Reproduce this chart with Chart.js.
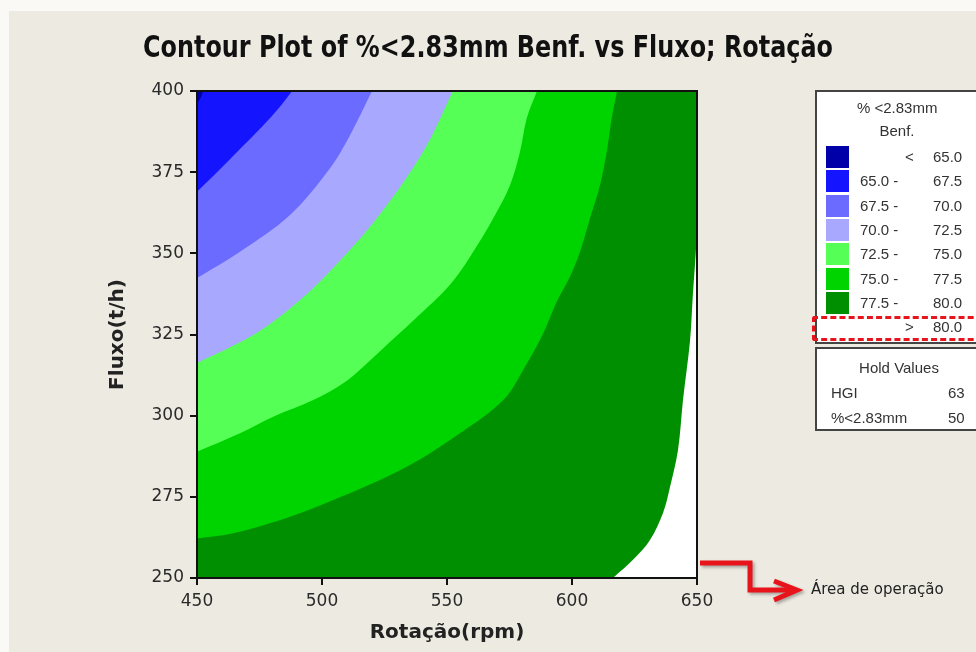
<!DOCTYPE html>
<html>
<head>
<meta charset="utf-8">
<script src="https://cdn.jsdelivr.net/npm/chart.js@4.4.1/dist/chart.umd.min.js"></script>
<style>
    body { margin: 0; width: 976px; height: 652px; overflow: hidden; background: #faf9f5; position: relative; font-family: 'Liberation Sans', Arial, sans-serif; }
    #fundo { position: absolute; left: 9px; top: 11px; right: 0; bottom: 0; background: #edeae1; }
    #grafico { position: absolute; left: 0; top: 0; }
    #titulo { position: absolute; left: 143px; top: 26px; white-space: nowrap; color: #111; font-family: 'DejaVu Sans', sans-serif; font-stretch: condensed; font-weight: bold; font-size: 31px; line-height: 40px; transform-origin: 0 50%; }
    .caixa { position: absolute; background: #fff; border: 2px solid #444; box-sizing: border-box; color: #333; font-size: 15px; }
    .txt { position: absolute; white-space: nowrap; line-height: 20px; }
    .amostra { position: absolute; width: 23px; height: 22px; }
    #tracejado { position: absolute; left: 812px; top: 316px; width: 180px; height: 25px; border: 3px dashed #e8141c; border-radius: 3px; box-sizing: border-box; }
    #seta { position: absolute; left: 0; top: 0; }
    #operacao { position: absolute; left: 811px; top: 580px; font-family: 'DejaVu Sans', sans-serif; font-size: 15px; color: #222; white-space: nowrap; }
</style>
</head>
<body>
<div id="fundo"></div>
<canvas id="grafico" width="976" height="652"></canvas>
<div id="titulo">Contour Plot of %&lt;2.83mm Benf. vs Fluxo; Rotação</div>

<div class="caixa" id="legenda" style="left:815px; top:90px; width:180px; height:254px;"></div>
<div id="tracejado"></div>
<div class="caixa" id="hold" style="left:815px; top:347px; width:180px; height:84px;"></div>

<svg id="seta" width="976" height="652">
    <g fill="none" stroke="#e8141c" stroke-width="5" style="filter: drop-shadow(2px 2px 1.5px rgba(0,0,0,0.3));">
        <polyline points="700,563 750,563 750,590 795,590"/>
        <polyline points="774,581 797,590 774,600"/>
    </g>
</svg>
<div id="operacao">Área de operação</div>

<script>
// Eixos
const ticksRotacao = [450, 500, 550, 600, 650];
const ticksFluxo = [250, 275, 300, 325, 350, 375, 400];

// Contornos (Rotação em rpm, Fluxo em t/h)
const rot65 = [450, 451.5, 452.5];
const flux65 = [396, 398, 400];

const rot675 = [450, 458, 467, 476, 483, 488];
const flux675 = [369, 375, 382, 389, 395, 400];

const rot70 = [450, 467.2, 487.2, 503.2, 511.2, 520];
const flux70 = [342.4, 350.5, 361.8, 376.2, 386.4, 400];

const rot725 = [450, 473.9, 491.2, 503, 522, 540.4, 552.4];
const flux725 = [316.2, 325.5, 335.6, 344.3, 360.9, 381.2, 400];

const rot75 = [450, 467.2, 480.5, 496.5, 508.5, 516.5, 524.5, 537.5, 551.2, 560.5, 568.5, 575.2, 579.2, 581.9, 586];
const flux75 = [288.9, 294.6, 299.7, 304.8, 310.0, 315.1, 320.8, 330.0, 340.3, 350.5, 360.8, 371.0, 381.3, 391.6, 400];

const rot775 = [450, 464.5, 487.2, 504.5, 533.9, 555.2, 572.5, 581.2, 588.5, 594.2, 598.9, 603.2, 607.2, 611.2, 613.9, 615.9, 618];
const flux775 = [262.2, 263.8, 268.9, 274.0, 284.3, 294.6, 304.8, 315.1, 325.4, 335.6, 342.3, 350.5, 360.8, 371.0, 381.3, 391.6, 400];

const rot80 = [616.4, 624.4, 631.2, 636.4, 639.2, 642.4, 644.4, 647.2, 648.3, 649.5, 650];
const flux80 = [250, 255.6, 261.7, 270, 278, 289.4, 304.8, 323, 336.6, 350, 357];

// Legenda
const faixasDe = ['', '65.0 -', '67.5 -', '70.0 -', '72.5 -', '75.0 -', '77.5 -', ''];
const faixasSinal = ['<', '', '', '', '', '', '', '>'];
const faixasAte = ['65.0', '67.5', '70.0', '72.5', '75.0', '77.5', '80.0', '80.0'];
const holdNomes = ['HGI', '%<2.83mm'];
const holdValores = ['63', '50'];

const cores = ['#0000a8', '#1414ff', '#6b6bff', '#a8a8ff', '#55ff55', '#00d400', '#008f00', '#ffffff'];

function pontos(xs, ys) {
    return xs.map((x, i) => ({ x: x, y: ys[i] }));
}

function camada(xs, ys, cor, alvo, ordem) {
    return {
        data: pontos(xs, ys),
        showLine: true,
        borderColor: 'transparent',
        borderWidth: 0,
        pointRadius: 0,
        tension: 0.35,
        backgroundColor: cor,
        fill: alvo,
        order: ordem
    };
}

// Moldura do gráfico
const moldura = {
    id: 'moldura',
    afterDatasetsDraw(chart) {
        const a = chart.chartArea;
        const ctx = chart.ctx;
        ctx.save();
        ctx.strokeStyle = '#111';
        ctx.lineWidth = 2;
        ctx.strokeRect(a.left, a.top, a.right - a.left, a.bottom - a.top);
        ctx.restore();
    }
};

function renderizarGrafico() {
    const ctx = document.getElementById('grafico').getContext('2d');
    const fonteTicks = { family: 'DejaVu Sans', size: 17 };
    const fonteTitulo = { family: 'DejaVu Sans', size: 20, weight: 'bold' };
    new Chart(ctx, {
        type: 'scatter',
        data: {
            datasets: [
                camada([450, 650], [400, 400], cores[6], 'start', 10),
                camada(rot775, flux775, cores[5], 'end', 9),
                camada(rot75, flux75, cores[4], 'end', 8),
                camada(rot725, flux725, cores[3], 'end', 7),
                camada(rot70, flux70, cores[2], 'end', 6),
                camada(rot675, flux675, cores[1], 'end', 5),
                camada(rot65, flux65, cores[0], 'end', 4),
                camada(rot80, flux80, cores[7], 'start', 3)
            ]
        },
        options: {
            responsive: false,
            animation: false,
            layout: { padding: { left: 100, right: 279, top: 91, bottom: 0 } },
            plugins: {
                legend: { display: false },
                tooltip: { enabled: false }
            },
            scales: {
                x: {
                    type: 'linear',
                    min: 450,
                    max: 650,
                    afterBuildTicks: (s) => { s.ticks = ticksRotacao.map(v => ({ value: v })); },
                    afterFit: (s) => { s.height = 74; },
                    grid: { drawOnChartArea: false, drawTicks: true, tickLength: 7, color: '#111', lineWidth: 2 },
                    border: { display: true, color: '#111', width: 2 },
                    ticks: { color: '#2a2a2a', padding: 6, font: fonteTicks },
                    title: { display: true, text: 'Rotação(rpm)', color: '#222', padding: { top: 0, bottom: 7 }, font: fonteTitulo }
                },
                y: {
                    type: 'linear',
                    min: 250,
                    max: 400,
                    afterBuildTicks: (s) => { s.ticks = ticksFluxo.map(v => ({ value: v })); },
                    afterFit: (s) => { s.width = 97; },
                    grid: { drawOnChartArea: false, drawTicks: true, tickLength: 7, color: '#111', lineWidth: 2 },
                    border: { display: true, color: '#111', width: 2 },
                    ticks: { color: '#2a2a2a', padding: 6, font: fonteTicks },
                    title: { display: true, text: 'Fluxo(t/h)', color: '#222', padding: { top: 6, bottom: 0 }, font: fonteTitulo }
                }
            }
        },
        plugins: [moldura]
    });
}

function texto(pai, conteudo, esquerda, centroY, estilo) {
    const d = document.createElement('div');
    d.className = 'txt';
    d.textContent = conteudo;
    d.style.left = esquerda + 'px';
    d.style.top = (centroY - 10) + 'px';
    if (estilo) Object.assign(d.style, estilo);
    pai.appendChild(d);
    return d;
}

function renderizarLegenda() {
    const leg = document.getElementById('legenda');
    // posições relativas ao interior da caixa (815+2, 90+2)
    texto(leg, '% <2.83mm', 40, 16, { width: '80px', textAlign: 'center' });
    texto(leg, 'Benf.', 40, 39, { width: '80px', textAlign: 'center' });
    faixasAte.forEach((ate, i) => {
        const cy = 65 + i * 24.3;
        const sw = document.createElement('div');
        sw.className = 'amostra';
        sw.style.left = '9px';
        sw.style.top = (cy - 11) + 'px';
        sw.style.background = cores[i];
        leg.appendChild(sw);
        if (faixasDe[i]) texto(leg, faixasDe[i], 43, cy);
        if (faixasSinal[i]) texto(leg, faixasSinal[i], 88, cy);
        texto(leg, ate, 116, cy);
    });

    const hold = document.getElementById('hold');
    texto(hold, 'Hold Values', 36, 19, { width: '92px', textAlign: 'center' });
    holdNomes.forEach((nome, i) => {
        const cy = 44 + i * 25;
        texto(hold, nome, 14, cy);
        texto(hold, holdValores[i], 131, cy);
    });
}

// Título ajustado à largura do original (143 a 833 px)
function ajustarTitulo() {
    const t = document.getElementById('titulo');
    const largura = t.getBoundingClientRect().width;
    if (largura > 0) t.style.transform = 'scaleX(' + (690 / largura) + ')';
}

document.addEventListener('DOMContentLoaded', () => {
    renderizarGrafico();
    renderizarLegenda();
    ajustarTitulo();
});
</script>
</body>
</html>
